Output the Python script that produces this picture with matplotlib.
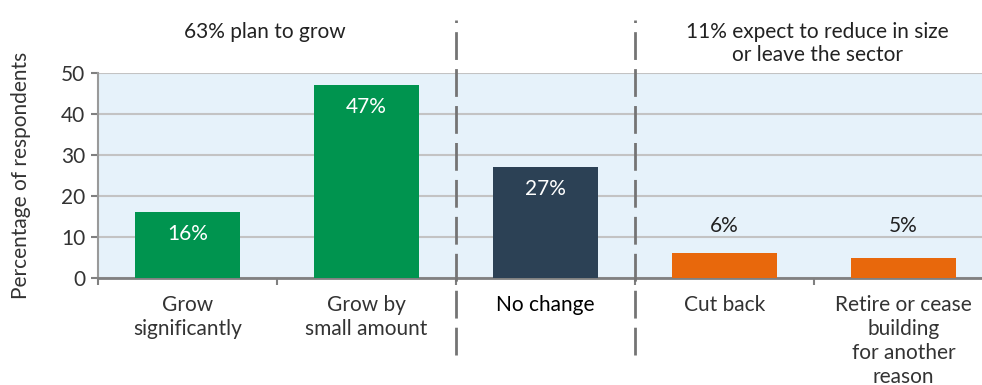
import matplotlib.pyplot as plt
import numpy as np

plt.rcParams['font.family'] = ['Lato', 'DejaVu Sans']

# survey answers and shares (%)
categories = ["Grow\nsignificantly", "Grow by\nsmall amount", "No change",
              "Cut back", "Retire or cease\nbuilding\nfor another\nreason"]
values = [16, 47, 27, 6, 5]
bar_colors = ["#00944f", "#00944f", "#2c4155", "#e8680c", "#e8680c"]
inside_label = [True, True, True, False, False]
group_titles = ["63% plan to grow", "11% expect to reduce in size\nor leave the sector"]
group_centres = [0.43, 3.52]
dividers = [1.5, 2.5]

FS = 15

fig = plt.figure(figsize=(9.82, 3.85), dpi=100)
ax = fig.add_axes([98 / 982, 107 / 385, 895 / 982, 205 / 385])
ax.set_facecolor("#e6f2fa")

x = np.arange(len(values))
bars = ax.bar(x, values, width=0.59, color=bar_colors, zorder=3)

# small bars share one label row above the tallest of them
outside_top = max(v for v, i in zip(values, inside_label) if not i)
for b, v, inside in zip(bars, values, inside_label):
    cx = b.get_x() + b.get_width() / 2
    if inside:
        ax.annotate(f"{v}%", (cx, v), xytext=(0, -22), textcoords="offset pixels",
                    ha="center", va="center", color="white", fontsize=FS, zorder=4)
    else:
        ax.annotate(f"{v}%", (cx, outside_top), xytext=(0, 27), textcoords="offset pixels",
                    ha="center", va="center", color="#222222", fontsize=FS, zorder=4)

ax.set_xlim(-0.5, 4.5)
ax.set_ylim(0, 50)
ax.set_yticks(range(0, 51, 10))
ax.yaxis.grid(True, color="#c3c3c3", linewidth=1.5, zorder=0)
ax.set_axisbelow(True)

# category boundaries carry the x tick marks
ax.set_xticks(np.arange(-0.5, 5, 1.0))
ax.set_xticklabels([])
ax.set_xticks(x, minor=True)
ax.set_xticklabels(categories, minor=True, fontsize=FS, color="#333333", linespacing=1.25)
ax.tick_params(axis="x", which="minor", length=0, pad=12)
ax.tick_params(axis="x", which="major", length=5, color="#808080", width=1.5)
ax.get_xticklabels(minor=True)[2].set_color("black")
ax.tick_params(axis="y", length=5, color="#808080", width=1.5, labelsize=FS,
               labelcolor="#333333", pad=4)

for side in ["top", "right"]:
    ax.spines[side].set_visible(False)
ax.spines["left"].set_color("#9a9a9a")
ax.spines["left"].set_linewidth(1.5)
ax.spines["bottom"].set_color("#808080")
ax.spines["bottom"].set_linewidth(2)

ax.set_ylabel("Percentage of respondents", fontsize=FS, color="#333333", labelpad=22)

# dashed separators between the answer groups
trans = ax.get_xaxis_transform()
for d in dividers:
    ax.plot([d, d], [-0.376, 1.259], transform=trans, clip_on=False,
            color="#747474", linewidth=2, dashes=(10, 3.3), zorder=5)

for cx, t in zip(group_centres, group_titles):
    ax.text(cx, 1.25, t, transform=trans, ha="center",
            va="top", fontsize=FS, color="#222222", linespacing=1.2)

fig.savefig("out.png", dpi=100)
